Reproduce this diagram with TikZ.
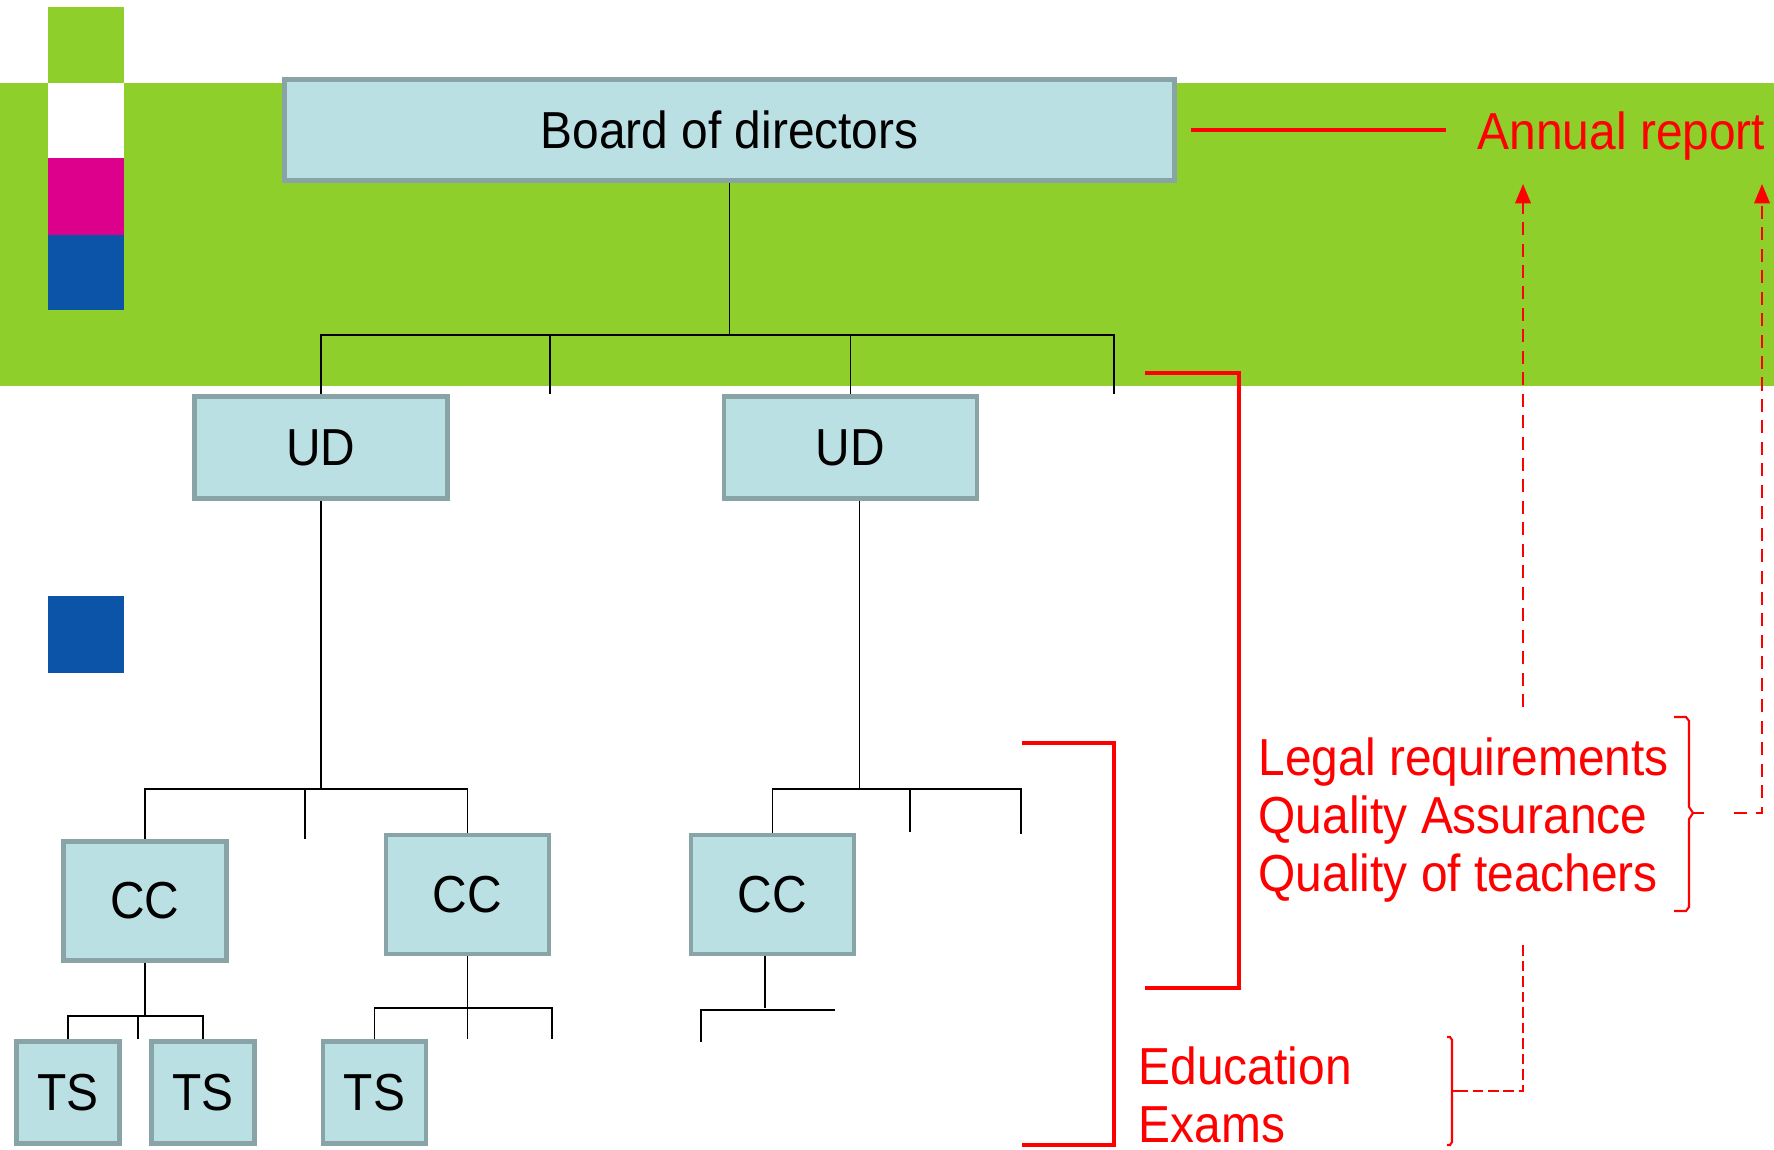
\documentclass[tikz,border=0pt]{standalone}
\usepackage{fontspec}
\setmainfont[FakeStretch=0.92]{Liberation Sans}
\usetikzlibrary{positioning,arrows.meta}
\definecolor{band}{RGB}{142,207,44}
\definecolor{boxfill}{RGB}{187,224,227}
\definecolor{boxline}{RGB}{137,164,166}
\definecolor{pinkblock}{RGB}{220,0,140}
\definecolor{blueblock}{RGB}{11,84,168}

\begin{document}
\begin{tikzpicture}[x=0.01cm,y=-0.01cm,font=\fontsize{14.8}{16.4}\selectfont]
    \tikzstyle{unit}=[draw=boxline,fill=boxfill,line width=1.3pt,inner sep=0pt]
    \tikzstyle{link}=[line width=0.5pt]
    \tikzstyle{bracket}=[red,line width=1pt]
    \tikzstyle{note}=[red,inner sep=0pt,align=left,anchor=base west]
    \tikzstyle{feed}=[red,line width=0.6pt,dash pattern=on 3.7pt off 2.4pt]
    \tikzstyle{feedthin}=[red,line width=0.5pt,dash pattern=on 3pt off 1.4pt]
    \tikzstyle{curly}=[red,line width=0.6pt]
    \useasboundingbox (0,0) rectangle (1774,1149);

    % band and colour blocks
    \fill[band] (0,83) rectangle (1774,386);
    \fill[band] (48,7) rectangle (124,83);
    \fill[white] (48,83) rectangle (124,158);
    \fill[pinkblock] (48,158) rectangle (124,235);
    \fill[blueblock] (48,235) rectangle (124,310);
    \fill[blueblock] (48,596) rectangle (124,673);

    % units
    \node[unit,minimum width=8.9cm,minimum height=1.01cm] (board) at (729.5,130) {Board of directors};
    \node[unit,minimum width=2.53cm,minimum height=1.02cm] (ud1) at (321,447.5) {UD};
    \node[unit,minimum width=2.53cm,minimum height=1.02cm] (ud2) at (850.5,447.5) {UD};
    \node[unit,minimum width=1.63cm,minimum height=1.19cm] (cc1) at (145,901) {CC};
    \node[unit,minimum width=1.63cm,minimum height=1.19cm] (cc2) at (467.5,894.5) {CC};
    \node[unit,minimum width=1.63cm,minimum height=1.19cm] (cc3) at (772.5,894.5) {CC};
    \node[unit,minimum width=1.03cm,minimum height=1.02cm] (ts1) at (68,1092.5) {TS};
    \node[unit,minimum width=1.03cm,minimum height=1.02cm] (ts2) at (203,1092.5) {TS};
    \node[unit,minimum width=1.03cm,minimum height=1.02cm] (ts3) at (374.5,1092.5) {TS};

    % open stubs
    \coordinate (stubA) at (550,394);
    \coordinate (stubB) at (1114,394);
    \coordinate (stubC) at (305,839);
    \coordinate (stubD) at (910,832);
    \coordinate (stubE) at (1021,834);
    \coordinate (stubF) at (138,1039);
    \coordinate (stubG) at (552,1039);
    \coordinate (stubH) at (701,1042);
    \coordinate (stubI) at (835,1010);

    % tree lines
    \draw[link] (board.south) -- ++(0,152) coordinate (bus0);
    \draw[link] (ud1.north) |- (bus0) -| (stubB);
    \draw[link] (ud2.north) -- (ud2.north |- bus0);
    \draw[link] (stubA) -- (stubA |- bus0);

    \draw[link] (ud1.south) -- ++(0,288) coordinate (bus1);
    \draw[link] (cc1.north) |- (bus1) -| (cc2.north);
    \draw[link] (stubC) -- (stubC |- bus1);

    \draw[link] ([xshift=0.09cm]ud2.south) -- ++(0,288) coordinate (bus2);
    \draw[link] (cc3.north) |- (bus2) -| (stubE);
    \draw[link] (stubD) -- (stubD |- bus2);

    \draw[link] (cc1.south) -- ++(0,53) coordinate (bus3);
    \draw[link] (ts1.north) |- (bus3) -| (ts2.north);
    \draw[link] (stubF) -- (stubF |- bus3);

    \draw[link] (cc2.south) -- ++(0,52) coordinate (bus4);
    \draw[link] (ts3.north) |- (bus4) -| (stubG);
    \draw[link] (bus4) -- (bus4 |- stubG);

    \draw[link] ([xshift=-0.075cm]cc3.south) -- ++(0,52) coordinate (bus5);
    \draw[link] (stubH) |- (stubI);

    % red notes (base of the last line)
    \node[note] (report) at (1477,150) {Annual report};
    \node[note] (legal) at (1258,891) {Legal requirements\\Quality Assurance\\Quality of teachers};
    \node[note] (edu) at (1138,1142) {Education\\Exams};

    \draw[bracket] ([xshift=0.14cm]board.east) -- ([xshift=-0.31cm]report.west |- board.east);
    \draw[bracket] (1145,373) -| (1239,988) -- (1145,988);
    \draw[bracket] (1022,743) -| (1114,1145) -- (1022,1145);

    % braces
    \coordinate (legaltip) at (1704,813);
    \coordinate (edutip) at (1457,1091);
    \draw[curly] (1674,717) -- (1686,717) -- (1689,721) -- (1689,807) -- (1693,813) -- (1689,819) -- (1689,907) -- (1686,911) -- (1674,911);
    \draw[curly] (1693,813) -- (legaltip);
    \draw[curly] (1447,1037) -- (1450,1037) -- (1452,1040) -- (1452,1142) -- (1450,1145) -- (1447,1145);
    \draw[curly] (1452,1091) -- (edutip);

    % feedback
    \coordinate (upfoot) at (1523,707);
    \coordinate (upend) at (1523,945);
    \draw[feed,-{Triangle[width=4.4pt,length=5.5pt]}] (upfoot) -- (upfoot |- 0,184);
    \draw[feed,-{Triangle[width=4.4pt,length=5.5pt]}] ([xshift=0.3cm]legaltip) -| (1762,184);
    \draw[feedthin] (edutip) -| (upend);
\end{tikzpicture}
\end{document}
